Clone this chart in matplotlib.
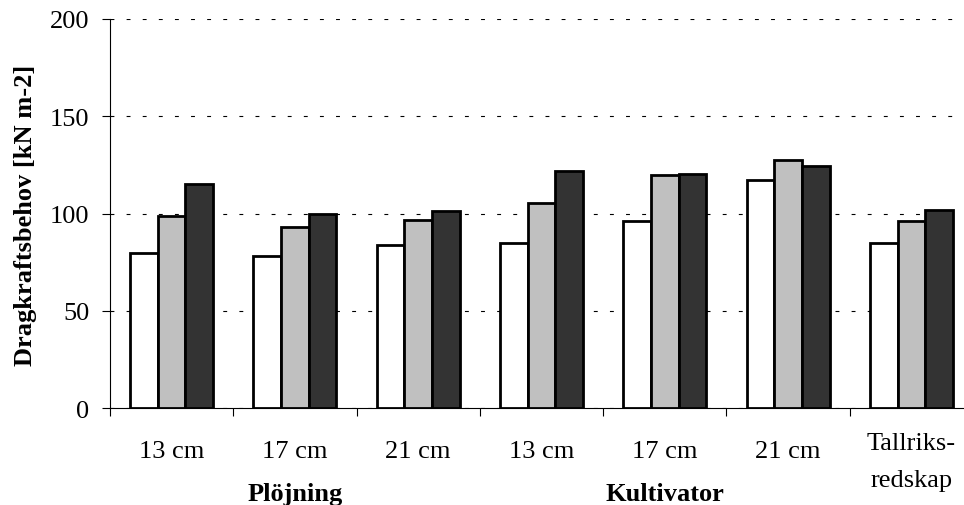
import matplotlib
matplotlib.use("Agg")
import matplotlib.pyplot as plt
import numpy as np

plt.rcParams['font.family'] = ['Liberation Serif', 'DejaVu Serif']

# Draught requirement per treatment, three series per group
categories = ["13 cm", "17 cm", "21 cm", "13 cm", "17 cm", "21 cm", "Tallriks-\nredskap"]
series_a = [80, 78, 84, 85, 96, 117.5, 85]
series_b = [99, 93, 96.5, 105.5, 120, 127.5, 96]
series_c = [115, 100, 101.5, 122, 120.5, 124.5, 102]
group_labels = [("Plöjning", 1), ("Kultivator", 4)]
yticks = [0, 50, 100, 150, 200]

fig = plt.figure(figsize=(9.64, 5.06), dpi=100)
ax = fig.add_axes([110 / 964, (506 - 409.3) / 506, (973 - 110) / 964, 389.3 / 506])

x = np.arange(len(categories))
w = 0.2245
colors = ["#FFFFFF", "#C0C0C0", "#333333"]
for i, (vals, col) in enumerate(zip([series_a, series_b, series_c], colors)):
    ax.bar(x + (i - 1) * w, vals, width=w, color=col, edgecolor="black",
           linewidth=2.0, zorder=3)

ax.set_xlim(-0.5, len(categories) - 0.5)
ax.set_ylim(0, 200)
ax.set_yticks(yticks)
ax.yaxis.grid(True, color="black", linestyle=(0, (3.5, 11)), linewidth=0.8, zorder=0)
ax.set_axisbelow(True)

for s in ["top", "right"]:
    ax.spines[s].set_visible(False)
ax.spines["left"].set_linewidth(0.8)
ax.spines["bottom"].set_linewidth(0.8)

ax.tick_params(axis="y", direction="out", length=6, width=0.8, pad=9, labelsize=19)

# Tick marks at the group boundaries, category text under the group centres
ax.set_xticks(np.arange(len(categories) + 1) - 0.5)
ax.set_xticklabels([])
ax.tick_params(axis="x", direction="out", length=6, width=0.8)

trans = ax.get_xaxis_transform()
for xi, lab in zip(x, categories):
    lines = lab.split("\n")
    if len(lines) == 2:
        ax.text(xi, -0.0894, lines[0], transform=trans, ha="center", va="center",
                fontsize=19)
        ax.text(xi, -0.184, lines[1], transform=trans, ha="center", va="center",
                fontsize=19)
    else:
        ax.text(xi, -0.110, lab, transform=trans, ha="center", va="center",
                fontsize=19)
for lab, xi in group_labels:
    ax.text(xi, -0.218, lab, transform=trans, ha="center", va="center",
            fontsize=19, fontweight="bold")

ax.set_ylabel("Dragkraftsbehov [kN m-2]", fontsize=19, fontweight="bold")
ax.yaxis.set_label_coords(-0.085, 0.497)

fig.savefig("out.png", dpi=100)
